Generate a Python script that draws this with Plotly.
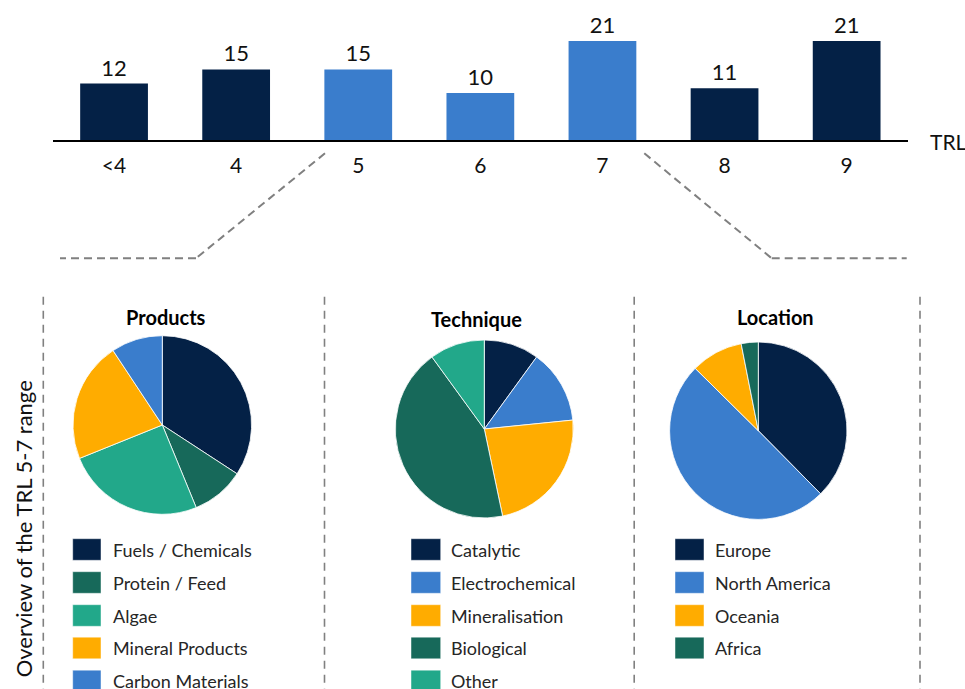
import plotly.graph_objects as go

W, H = 965, 689

# ---------------- data ----------------
trl_levels = ["<4", "4", "5", "6", "7", "8", "9"]
trl_counts = [12, 15, 15, 10, 21, 11, 21]

products_labels = ["Fuels / Chemicals", "Protein / Feed", "Algae", "Mineral Products", "Carbon Materials"]
products_values = [34.2, 9.6, 25.1, 21.8, 9.3]

technique_labels = ["Catalytic", "Electrochemical", "Mineralisation", "Biological", "Other"]
technique_values = [10.0, 13.4, 23.3, 43.3, 10.0]

location_labels = ["Europe", "North America", "Oceania", "Africa"]
location_values = [37.6, 49.8, 9.5, 3.1]

# ---------------- styles ----------------
NAVY = "#042146"
BLUE = "#3A7DCC"
DKGREEN = "#17695A"
TEAL = "#22A88A"
ORANGE = "#FFAC00"
GRAY = "#808080"
FONT = "Lato, 'Open Sans', sans-serif"

bar_colors = [NAVY, NAVY, BLUE, BLUE, BLUE, NAVY, NAVY]
products_colors = [NAVY, DKGREEN, TEAL, ORANGE, BLUE]
technique_colors = [NAVY, BLUE, ORANGE, DKGREEN, TEAL]
location_colors = [NAVY, BLUE, ORANGE, DKGREEN]


def px(x):
    return x / W


def py(y):
    return 1 - y / H


fig = go.Figure()

# ---------------- bar chart ----------------
fig.add_trace(go.Bar(
    x=trl_levels, y=trl_counts,
    marker=dict(color=bar_colors, line=dict(width=0)),
    text=[str(v) for v in trl_counts], textposition="outside",
    textfont=dict(family=FONT, size=22, color="#111111"),
    cliponaxis=False, showlegend=False, hoverinfo="x+y",
))

# ---------------- pies ----------------
def pie_domain(cx, cy, r):
    return dict(x=[px(cx - r), px(cx + r)], y=[py(cy + r), py(cy - r)])


for labels, values, colors, (cx, cy, r) in [
    (products_labels, products_values, products_colors, (162.3, 425.0, 89.3)),
    (technique_labels, technique_values, technique_colors, (484.3, 429.0, 89.0)),
    (location_labels, location_values, location_colors, (758.3, 430.7, 88.7)),
]:
    fig.add_trace(go.Pie(
        labels=labels, values=values, sort=False, direction="clockwise", rotation=0,
        marker=dict(colors=colors, line=dict(color="white", width=0.8)),
        textinfo="none", showlegend=False, domain=pie_domain(cx, cy, r),
    ))

shapes = []
annotations = []

# pie titles
for title, cx, cy in [("Products", 166, 317.3), ("Technique", 476.7, 319.3), ("Location", 775.7, 317.3)]:
    annotations.append(dict(x=px(cx), y=py(cy), xref="paper", yref="paper", text="<b>" + title + "</b>",
                            showarrow=False, xanchor="center", yanchor="middle",
                            font=dict(family=FONT, size=20, color="#000000")))

# custom legends
row_y = [549.5, 582.5, 615.5, 648.0, 681.0]
for labels, colors, rx0, rx1, tx in [
    (products_labels, products_colors, 72.7, 101.0, 110.7),
    (technique_labels, technique_colors, 411.0, 440.7, 449.3),
    (location_labels, location_colors, 675.0, 704.0, 712.7),
]:
    for i, (lab, col) in enumerate(zip(labels, colors)):
        yc = row_y[i]
        shapes.append(dict(type="rect", xref="paper", yref="paper",
                           x0=px(rx0), x1=px(rx1), y0=py(yc + 10.8), y1=py(yc - 10.8),
                           fillcolor=col, line=dict(width=0.8, color="rgba(255,255,255,0.6)")))
        annotations.append(dict(x=px(tx), y=py(yc), xref="paper", yref="paper", text=lab,
                                showarrow=False, xanchor="left", yanchor="middle",
                                font=dict(family=FONT, size=18, color="#262626")))

# TRL axis title
annotations.append(dict(x=px(928), y=py(141), xref="paper", yref="paper", text="TRL",
                        showarrow=False, xanchor="left", yanchor="middle",
                        font=dict(family=FONT, size=21, color="#111111")))

# rotated side label
annotations.append(dict(x=px(23.3), y=py(529), xref="paper", yref="paper",
                        text="Overview of the TRL 5-7 range", textangle=-90,
                        showarrow=False, xanchor="center", yanchor="middle",
                        font=dict(family=FONT, size=22, color="#111111")))

# zoom connector dashed lines
dash_top = "8px,5px"
for pts in [[(325, 153.3), (196, 258.3), (60, 258.3)],
            [(644.3, 153.3), (771.7, 258.3), (906.7, 258.3)]]:
    for (xa, ya), (xb, yb) in zip(pts[:-1], pts[1:]):
        shapes.append(dict(type="line", xref="paper", yref="paper",
                           x0=px(xa), y0=py(ya), x1=px(xb), y1=py(yb),
                           line=dict(color=GRAY, width=2, dash=dash_top)))

# vertical separators
for xv in [43.3, 324.5, 634.2, 920.0]:
    shapes.append(dict(type="line", xref="paper", yref="paper",
                       x0=px(xv), y0=py(296.7), x1=px(xv), y1=py(689),
                       line=dict(color=GRAY, width=1.6, dash="8px,6px")))

fig.update_layout(
    width=W, height=H,
    margin=dict(l=0, r=0, t=0, b=0),
    paper_bgcolor="white", plot_bgcolor="white",
    showlegend=False,
    bargap=0.445,
    font=dict(family=FONT, color="#111111"),
    xaxis=dict(domain=[px(53), px(907.7)], range=[-0.5, 6.5], type="category",
               showline=True, linecolor="#000000", linewidth=2,
               showgrid=False, zeroline=False,
               ticks="outside", ticklen=5, tickcolor="rgba(0,0,0,0)",
               tickfont=dict(family=FONT, size=21, color="#111111")),
    yaxis=dict(domain=[py(140.3), 1], range=[0, 29.7], visible=False, showgrid=False, zeroline=False),
    shapes=shapes,
    annotations=annotations,
)

fig.write_html("out.html")
